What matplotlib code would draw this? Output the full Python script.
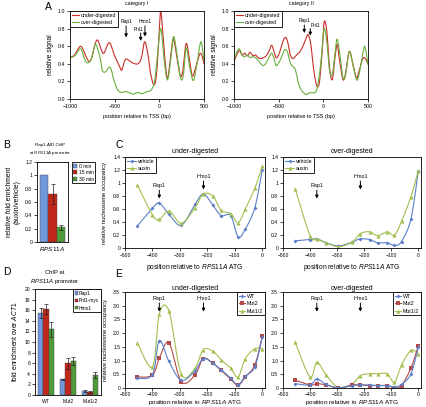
import numpy as np
import matplotlib
matplotlib.use("Agg")
import matplotlib.pyplot as plt
from matplotlib.lines import Line2D
from matplotlib.patches import Patch

plt.rcParams["font.family"] = ["Liberation Sans", "DejaVu Sans"]
plt.rcParams["mathtext.fontset"] = "custom"
plt.rcParams["mathtext.rm"] = "Liberation Sans"
plt.rcParams["mathtext.it"] = "Liberation Sans:italic"
plt.rcParams["axes.linewidth"] = 0.6
plt.rcParams["xtick.major.width"] = 0.5
plt.rcParams["ytick.major.width"] = 0.5
plt.rcParams["xtick.major.size"] = 2
plt.rcParams["ytick.major.size"] = 2
plt.rcParams["xtick.major.pad"] = 1.5
plt.rcParams["ytick.major.pad"] = 1.5

# --- panel A: MNase profiles around TSS ---
a1_red_x = [-1000, -950, -880, -820, -790, -760, -700, -650, -620, -560, -500, -440, -420, -380, -330, -300,
            -240, -200, -165, -130, -100, -60, -30, 0, 15, 40, 70, 95, 125, 155, 190, 230, 260, 300, 340, 370,
            410, 460, 500]
a1_red_y = [0.47, 0.50, 0.60, 0.48, 0.43, 0.46, 0.67, 0.56, 0.52, 0.64, 0.49, 0.36, 0.33, 0.45, 0.43, 0.41,
            0.40, 0.47, 0.65, 0.52, 0.30, 0.16, 0.30, 0.80, 1.00, 0.75, 0.37, 0.24, 0.47, 0.68, 0.52, 0.28, 0.30,
            0.63, 0.43, 0.26, 0.37, 0.52, 0.40]
a1_grn_x = [-1000, -950, -880, -836, -800, -760, -720, -690, -660, -636, -600, -565, -540, -510, -470, -430,
            -380, -330, -290, -240, -200, -150, -110, -80, -50, -20, 15, 50, 80, 100, 130, 160, 200, 240, 270,
            300, 340, 380, 420, 465, 500]
a1_grn_y = [0.47, 0.49, 0.57, 0.45, 0.41, 0.46, 0.62, 0.57, 0.45, 0.32, 0.31, 0.36, 0.34, 0.22, 0.11, 0.075,
            0.085, 0.07, 0.055, 0.075, 0.06, 0.08, 0.09, 0.12, 0.22, 0.50, 0.80, 0.47, 0.25, 0.24, 0.47, 0.71,
            0.49, 0.23, 0.28, 0.58, 0.36, 0.21, 0.39, 0.65, 0.43]
a2_red_x = [-1000, -970, -940, -910, -880, -850, -820, -790, -760, -730, -700, -670, -640, -610, -580, -555,
            -530, -505, -480, -450, -420, -395, -370, -340, -300, -260, -220, -190, -170, -140, -110, -80, -60,
            -40, -10, 10, 40, 70, 100, 130, 155, 180, 220, 250, 290, 330, 370, 400, 450, 500]
a2_red_y = [0.43, 0.50, 0.55, 0.50, 0.52, 0.49, 0.53, 0.49, 0.50, 0.47, 0.46, 0.47, 0.49, 0.54, 0.61, 0.55,
            0.47, 0.49, 0.56, 0.66, 0.70, 0.63, 0.50, 0.46, 0.50, 0.54, 0.62, 0.70, 0.73, 0.62, 0.35, 0.17, 0.14,
            0.22, 0.58, 0.88, 0.76, 0.35, 0.22, 0.47, 0.62, 0.45, 0.22, 0.30, 0.54, 0.40, 0.24, 0.32, 0.47, 0.40]
a2_grn_x = [-1000, -970, -940, -910, -880, -850, -820, -790, -760, -730, -700, -670, -640, -610, -580, -555,
            -530, -500, -470, -440, -420, -400, -370, -340, -320, -300, -280, -250, -220, -190, -160, -130, -100,
            -80, -60, -30, -10, 10, 40, 70, 100, 130, 155, 190, 220, 250, 290, 330, 370, 400, 450, 470, 500]
a2_grn_y = [0.43, 0.53, 0.57, 0.50, 0.48, 0.50, 0.47, 0.48, 0.47, 0.44, 0.40, 0.38, 0.41, 0.47, 0.52, 0.47,
            0.38, 0.41, 0.47, 0.55, 0.56, 0.53, 0.41, 0.37, 0.35, 0.28, 0.18, 0.11, 0.07, 0.05, 0.07, 0.07, 0.07,
            0.09, 0.17, 0.39, 0.62, 0.80, 0.64, 0.32, 0.28, 0.51, 0.68, 0.47, 0.24, 0.28, 0.54, 0.39, 0.22, 0.28,
            0.56, 0.58, 0.39]

# --- panel B: Rap1-AID ChIP ---
b_labels = ["0 min", "15 min", "30 min"]
b_values = [1.0, 0.72, 0.22]
b_errors = [0.0, 0.15, 0.04]

# --- panels C/E: nucleosome occupancy positions ---
pos = [-455, -400, -375, -340, -295, -245, -215, -180, -150, -115, -88, -62, -27, 0]
c_under_vehicle = [0.34, 0.61, 0.69, 0.52, 0.35, 0.67, 0.83, 0.66, 0.50, 0.50, 0.17, 0.29, 0.62, 1.20]
c_under_auxin = [0.97, 0.51, 0.44, 0.57, 0.38, 0.62, 0.83, 0.80, 0.58, 0.53, 0.39, 0.60, 0.92, 1.26]
c_over_vehicle = [0.11, 0.13, 0.14, 0.08, 0.03, 0.09, 0.14, 0.13, 0.08, 0.08, 0.04, 0.10, 0.45, 1.19]
c_over_auxin = [0.91, 0.19, 0.14, 0.08, 0.02, 0.09, 0.22, 0.25, 0.19, 0.25, 0.20, 0.41, 0.79, 1.19]

# --- panel D: ChIP at RPS11A promoter ---
d_groups = ["WT", "Mut2", "Mut1/2"]
d_rap1 = [15.5, 2.95, 0.8]
d_rap1_err = [0.9, 0.1, 0.15]
d_fhl1 = [16.2, 6.0, 0.6]
d_fhl1_err = [1.0, 1.0, 0.2]
d_hmo1 = [12.4, 6.4, 3.8]
d_hmo1_err = [1.4, 0.8, 0.6]

e_under_wt = [0.35, 0.49, 1.73, 0.97, 0.28, 0.63, 1.07, 0.90, 0.67, 0.36, 0.12, 0.43, 0.77, 1.86]
e_under_mut2 = [0.40, 0.47, 1.09, 1.65, 0.23, 0.47, 1.07, 0.90, 0.64, 0.33, 0.10, 0.40, 0.84, 1.88]
e_under_mut12 = [1.64, 0.77, 2.70, 2.81, 0.50, 0.72, 1.40, 1.34, 1.03, 0.72, 0.40, 1.07, 1.43, 1.43]
e_over_wt = [0.16, 0.11, 0.33, 0.13, 0.01, 0.09, 0.11, 0.11, 0.09, 0.09, 0.04, 0.13, 0.52, 1.49]
e_over_mut2 = [0.28, 0.11, 0.16, 0.11, 0.0, 0.11, 0.11, 0.09, 0.09, 0.09, 0.01, 0.09, 0.73, 1.54]
e_over_mut12 = [1.66, 0.40, 0.94, 0.47, 0.01, 0.13, 0.45, 0.52, 0.52, 0.52, 0.21, 0.84, 1.37, 1.25]

RED_A = "#c8302a"
GRN_A = "#6aae3c"
BLUE = "#5b7fc8"
YGRN = "#a3c050"
RED = "#b34a4a"
BAR_BLUE = "#7197dc"
BAR_RED = "#c0271b"
BAR_GRN = "#4f9a3a"


def smooth(x, y, n=10):
    # Excel-like smoothed line (Catmull-Rom through the points)
    p = np.column_stack([x, y]).astype(float)
    p = np.vstack([p[0], p, p[-1]])
    out = []
    t = np.linspace(0, 1, n, endpoint=False)[:, None]
    for i in range(1, len(p) - 2):
        p0, p1, p2, p3 = p[i - 1], p[i], p[i + 1], p[i + 2]
        seg = 0.5 * (2 * p1 + (-p0 + p2) * t + (2 * p0 - 5 * p1 + 4 * p2 - p3) * t ** 2
                     + (-p0 + 3 * p1 - 3 * p2 + p3) * t ** 3)
        out.append(seg)
    out.append(p[-2][None, :])
    out = np.vstack(out)
    return out[:, 0], out[:, 1]


fig = plt.figure(figsize=(4.27, 4.07), dpi=100)


def box(l, t, r, b):
    return fig.add_axes([l / 427, 1 - b / 407, (r - l) / 427, (b - t) / 407])


def arrow(ax, x, y0, y1, label, ty, fs=3.9, tx=None):
    ax.annotate("", xy=(x, y1), xytext=(x, y0),
                arrowprops=dict(arrowstyle="-|>", lw=0.7, color="k", mutation_scale=4.5, shrinkA=0, shrinkB=0))
    ax.text(x if tx is None else tx, ty, label, fontsize=fs, ha="center", va="bottom")


def legend_box(ax, handles, labels, **kw):
    opts = dict(fontsize=3.8, fancybox=False, edgecolor="k", framealpha=1, borderpad=0.35,
                labelspacing=0.45, handletextpad=0.3, borderaxespad=0)
    opts.update(kw)
    leg = ax.legend(handles, labels, **opts)
    leg.get_frame().set_linewidth(0.6)
    return leg


# panel A
axA1 = box(70, 11, 204, 99)
axA2 = box(234, 11, 368, 99)
for ax, rx, ry, gx, gy, title in [(axA1, a1_red_x, a1_red_y, a1_grn_x, a1_grn_y, "category I"),
                                  (axA2, a2_red_x, a2_red_y, a2_grn_x, a2_grn_y, "category II")]:
    l1, = ax.plot(*smooth(rx, ry), color=RED_A, lw=0.8)
    l2, = ax.plot(*smooth(gx, gy), color=GRN_A, lw=0.8)
    ax.set_xlim(-1000, 500)
    ax.set_ylim(0, 1)
    ax.set_xticks([-1000, -500, 0, 500])
    ax.set_yticks(np.arange(0, 1.01, 0.2))
    ax.set_yticklabels([f"{v:.1f}" for v in np.arange(0, 1.01, 0.2)])
    ax.tick_params(labelsize=3.8, direction="out")
    ax.set_xlabel("position relative to TSS (bp)", fontsize=4.0, labelpad=4)
    ax.set_ylabel("relative signal", fontsize=4.8, labelpad=2.5)
    ax.set_title(title, fontsize=3.8, pad=4)
    legend_box(ax, [l1, l2], ["under-digested", "over-digested"], loc="upper left", handlelength=1.4,
               labelspacing=0.35)

arrow(axA1, -372, 0.83, 0.70, "Rap1", 0.85, fs=3.5)
arrow(axA1, -209, 0.75, 0.66, "Fhl1", 0.76, fs=3.5, tx=-232)
arrow(axA1, -161, 0.83, 0.71, "Hmo1", 0.85, fs=3.5)
arrow(axA2, -213, 0.84, 0.75, "Rap1", 0.86, fs=3.5)
arrow(axA2, -146, 0.80, 0.72, "Fhl1", 0.81, fs=3.5, tx=-90)

# panel B
axB = box(37, 162, 68, 242)
bcols = [BAR_BLUE, BAR_RED, BAR_GRN]
for i in range(3):
    axB.bar(i, b_values[i], width=1.0, color=bcols[i], edgecolor="#444444", lw=0.3,
            yerr=b_errors[i] if b_errors[i] > 0 else None,
            error_kw=dict(elinewidth=0.5, capsize=1.2, capthick=0.5, ecolor="#222222"))
axB.set_xlim(-0.8, 2.8)
axB.set_ylim(0, 1.2)
axB.set_yticks(np.arange(0, 1.21, 0.2))
axB.set_yticklabels(["0", "0.2", "0.4", "0.6", "0.8", "1", "1.2"])
axB.set_xticks([1])
axB.set_xticklabels([r"$\mathit{RPS11A}$"], fontsize=4.6)
axB.tick_params(axis="y", labelsize=3.6, direction="out")
axB.tick_params(axis="x", length=0, pad=2)
axB.set_ylabel("relative fold enrichment\n(auxin/vehicle)", fontsize=4.9, labelpad=3)
legend_box(axB, [Patch(facecolor=c, edgecolor="#444444", lw=0.3) for c in bcols], b_labels,
           loc="upper left", bbox_to_anchor=(1.12, 1.0), handlelength=0.8, handleheight=0.8,
           fontsize=3.6, labelspacing=0.3, borderpad=0.3)
fig.text(50 / 427, 1 - 150 / 407, "Rap1-AID ChIP\nat $\\mathit{RPS11A}$ promoter", fontsize=3.2,
         ha="center", va="center", linespacing=1.3)

# panels C
axC1 = box(125, 157, 265, 248)
axC2 = box(283, 157, 421, 248)
for ax, veh, aux, title in [(axC1, c_under_vehicle, c_under_auxin, "under-digested"),
                            (axC2, c_over_vehicle, c_over_auxin, "over-digested")]:
    ax.plot(*smooth(pos, veh), color=BLUE, lw=0.8)
    ax.plot(pos, veh, "D", color=BLUE, ms=2.0, mew=0)
    ax.plot(*smooth(pos, aux), color=YGRN, lw=0.8)
    ax.plot(pos, aux, "^", color=YGRN, ms=3.0, mew=0)
    ax.set_xlim(-500, 10)
    ax.set_ylim(0, 1.4)
    ax.set_xticks([-500, -400, -300, -200, -100, 0])
    ax.set_yticks(np.arange(0, 1.41, 0.2))
    ax.set_yticklabels(["0", "0.2", "0.4", "0.6", "0.8", "1", "1.2", "1.4"])
    ax.tick_params(labelsize=3.6, direction="out")
    ax.set_xlabel("position relative to $\\mathit{RPS11A}$ ATG", fontsize=4.8, labelpad=3)
    ax.set_title(title, fontsize=5.0, pad=3)
    hv = Line2D([], [], color=BLUE, lw=0.8, marker="D", ms=2.0, mew=0)
    ha = Line2D([], [], color=YGRN, lw=0.8, marker="^", ms=3.0, mew=0)
    legend_box(ax, [hv, ha], ["vehicle", "auxin"], loc="upper left", handlelength=1.8)
    arrow(ax, -375, 0.89, 0.76, "Rap1", 0.92)
    arrow(ax, -214, 1.03, 0.90, "Hmo1", 1.06)
axC1.set_ylabel("relative nucleosome occupancy", fontsize=4.2, labelpad=4)

# panel D
axD = box(35, 289, 101, 395)
xd = np.arange(3)
w = 0.23
err_kw = dict(elinewidth=0.5, capsize=1.2, capthick=0.5, ecolor="#222222")
axD.bar(xd - w, d_rap1, w, yerr=d_rap1_err, color=BAR_BLUE, edgecolor="#444444", lw=0.3, error_kw=err_kw)
axD.bar(xd, d_fhl1, w, yerr=d_fhl1_err, color=BAR_RED, edgecolor="#444444", lw=0.3, error_kw=err_kw)
axD.bar(xd + w, d_hmo1, w, yerr=d_hmo1_err, color=BAR_GRN, edgecolor="#444444", lw=0.3, error_kw=err_kw)
axD.set_xlim(-0.5, 2.5)
axD.set_ylim(0, 20)
axD.set_yticks(np.arange(0, 21, 2))
axD.set_xticks(xd)
axD.set_xticklabels(d_groups)
axD.tick_params(labelsize=3.6, direction="out")
axD.tick_params(axis="x", length=0, pad=3)
axD.set_ylabel("fold enrichment over $\\mathit{ACT1}$", fontsize=4.8, labelpad=4)
legend_box(axD, [Patch(facecolor=c, edgecolor="#444444", lw=0.3) for c in bcols],
           ["Rap1", "Fhl1-myc", "Hmo1"], loc="upper right", handlelength=0.6, handleheight=0.6,
           handletextpad=0.2, fontsize=3.5, labelspacing=0.5)
fig.text(55 / 427, 1 - 278 / 407, "ChIP at\n$\\mathit{RPS11A}$ promoter", fontsize=4.2,
         ha="center", va="center", linespacing=1.3)

# panels E
axE1 = box(125, 292, 265, 388)
axE2 = box(283, 292, 421, 388)
for ax, wt, m2, m12, title in [(axE1, e_under_wt, e_under_mut2, e_under_mut12, "under-digested"),
                               (axE2, e_over_wt, e_over_mut2, e_over_mut12, "over-digested")]:
    ax.plot(*smooth(pos, m12), color=YGRN, lw=0.8)
    ax.plot(pos, m12, "^", color=YGRN, ms=3.0, mew=0)
    ax.plot(*smooth(pos, m2), color=RED, lw=0.8)
    ax.plot(pos, m2, "s", color=RED, ms=2.6, mew=0)
    ax.plot(*smooth(pos, wt), color=BLUE, lw=0.8)
    ax.plot(pos, wt, "D", color=BLUE, ms=2.0, mew=0)
    ax.set_xlim(-500, 10)
    ax.set_ylim(0, 3.5)
    ax.set_xticks([-500, -400, -300, -200, -100, 0])
    ax.set_yticks(np.arange(0, 3.51, 0.5))
    ax.set_yticklabels(["0"] + [f"{v:.1f}" for v in np.arange(0.5, 3.51, 0.5)])
    ax.tick_params(labelsize=3.6, direction="out")
    ax.tick_params(axis="x", pad=1)
    ax.set_xlabel("position relative to $\\mathit{RPS11A}$ ATG", fontsize=4.6, labelpad=0.5)
    ax.set_title(title, fontsize=5.0, pad=1.5)
    hw = Line2D([], [], color=BLUE, lw=0.8, marker="D", ms=2.0, mew=0)
    hm = Line2D([], [], color=RED, lw=0.8, marker="s", ms=2.6, mew=0)
    hg = Line2D([], [], color=YGRN, lw=0.8, marker="^", ms=3.0, mew=0)
    legend_box(ax, [hw, hm, hg], ["WT", "Mut2", "Mut1/2"], loc="upper right", handlelength=1.3)
    arrow(ax, -375, 3.1, 2.78, "Rap1", 3.18)
    arrow(ax, -214, 3.1, 2.78, "Hmo1", 3.18)
axE1.set_ylabel("relative nucleosome occupancy", fontsize=4.2, labelpad=4)

# panel letters
for lab, x, y in [("A", 48, 7), ("B", 7, 145), ("C", 119, 145), ("D", 7, 272), ("E", 119, 274)]:
    fig.text(x / 427, 1 - y / 407, lab, fontsize=7.5, ha="center", va="center")

plt.savefig("out.png", dpi=100)
